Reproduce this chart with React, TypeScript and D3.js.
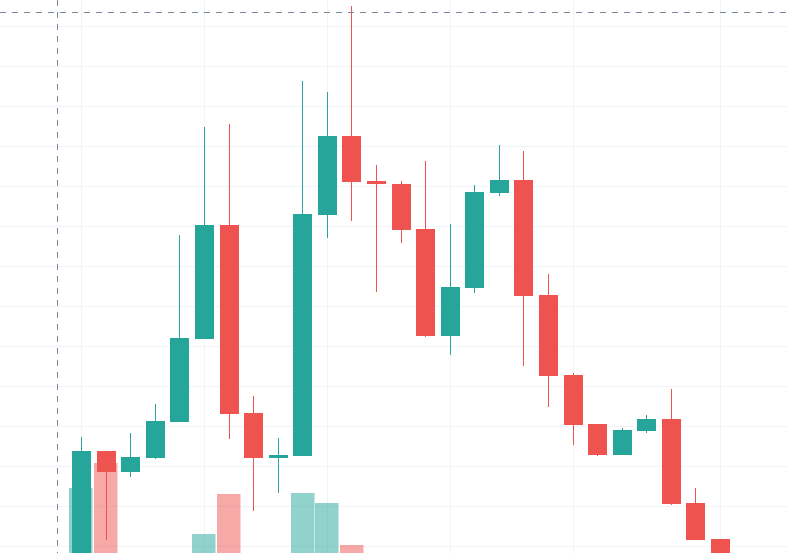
import React from "react";
import * as d3 from "d3";

// ---- data ----
const dates = [
  "2019-05-03", "2019-05-06", "2019-05-07", "2019-05-08", "2019-05-09", "2019-05-10",
  "2019-05-13", "2019-05-14", "2019-05-15", "2019-05-16", "2019-05-17",
  "2019-05-20", "2019-05-21", "2019-05-22", "2019-05-23", "2019-05-24",
  "2019-05-27", "2019-05-28", "2019-05-29", "2019-05-30", "2019-05-31",
  "2019-06-03", "2019-06-04", "2019-06-05", "2019-06-06", "2019-06-07",
  "2019-06-10", "2019-06-11",
];
const open = [
  96.5, 97.63, 111.88, 109.29, 111.04, 115.54, 125.91, 140.13, 116.63, 111.04, 111.29,
  141.41, 151.25, 145.63, 145.25, 139.63, 126.29, 132.29, 144.16, 145.75, 131.41,
  121.38, 115.25, 111.41, 114.41, 115.88, 105.38, 100.88,
];
const high = [
  98.0, 113.63, 111.9, 114.13, 117.75, 138.88, 152.41, 152.75, 118.79, 113.54, 158.13,
  156.75, 167.5, 147.66, 145.63, 148.13, 140.21, 145.13, 150.13, 149.41, 134.0,
  121.66, 115.25, 114.75, 116.41, 119.59, 107.25, 100.9,
];
const low = [
  94.8, 96.38, 100.75, 108.63, 110.88, 115.54, 125.91, 113.38, 104.41, 106.66, 111.29,
  138.46, 140.66, 131.79, 137.91, 126.16, 123.88, 131.66, 143.75, 122.5, 117.41,
  112.63, 111.29, 111.41, 114.16, 105.13, 100.69, 95.75,
];
const close = [
  97.4, 111.88, 109.29, 111.13, 115.63, 126.0, 140.13, 116.54, 111.04, 111.34, 141.5,
  151.25, 145.54, 145.21, 139.54, 126.29, 132.38, 144.25, 145.75, 131.29, 121.29,
  115.13, 111.41, 114.5, 115.88, 105.25, 100.79, 97.0,
];
const volume = [
  48, 132, 157, 52, 44, 58, 86, 126, 61, 40, 127,
  117, 75, 55, 42, 60, 38, 47, 35, 62, 50,
  45, 33, 30, 28, 54, 41, 36,
];
const gridDates = ["2019-05-06", "2019-05-13", "2019-05-20", "2019-05-27", "2019-06-03", "2019-06-11"];
const priceTicks = [95, 100, 105, 110, 115, 120, 125, 130, 135, 140, 145, 150, 155, 160, 165, 170];
const crosshairDate = "2019-05-03";
const crosshairPrice = 166.8;

const W = 787;
const H = 553;
const UP = "#26a69a";
const DOWN = "#ef5350";
const UP_VOL = "rgba(38,166,154,0.5)";
const DOWN_VOL = "rgba(239,83,80,0.5)";
const GRID = "#f0f3fa";
const CROSS = "#758696";

export default function App() {
  const x = d3.scaleBand<string>().domain(dates).range([44.85, 44.85 + 24.57 * dates.length]).padding(0);
  const y = d3.scaleLinear().domain([100, 165]).range([546, 26]);
  const vy = d3.scaleLinear().domain([0, 200]).range([620, 420]);
  const cx = (d: string) => (x(d) as number) + x.step() / 2;

  const candles = dates.map((d, i) => ({ d, o: open[i], h: high[i], l: low[i], c: close[i], v: volume[i] }));

  return (
    <svg width={W} height={H} style={{ position: "fixed", left: 0, top: 0, background: "#fff" }}>
      <rect x={0} y={0} width={W} height={H} fill="#fff" />
      {/* grid */}
      <g>
        {priceTicks.map((p) => (
          <line key={"h" + p} x1={0} x2={W} y1={Math.round(y(p)) + 0.5} y2={Math.round(y(p)) + 0.5} stroke={GRID} strokeWidth={1} />
        ))}
        {gridDates.map((d) => (
          <line key={"v" + d} y1={0} y2={H} x1={Math.round(cx(d) - 0.5) + 0.5} x2={Math.round(cx(d) - 0.5) + 0.5} stroke={GRID} strokeWidth={1} />
        ))}
      </g>
      {/* volume */}
      <g>
        {candles.map((k) => {
          const left = Math.round(cx(k.d) - 12.3);
          const top = Math.round(vy(k.v));
          const bottom = Math.round(vy(0));
          return (
            <rect key={"vol" + k.d} x={left} y={top} width={23.5} height={bottom - top} fill={k.c >= k.o ? UP_VOL : DOWN_VOL} />
          );
        })}
      </g>
      {/* candles */}
      <g>
        {candles.map((k) => {
          const color = k.c >= k.o ? UP : DOWN;
          const bx = Math.round(cx(k.d) - 9.5);
          const wx = bx + 9.5;
          const top = Math.round(y(Math.max(k.o, k.c)));
          const bot = Math.round(y(Math.min(k.o, k.c)));
          return (
            <g key={"c" + k.d}>
              <line x1={wx} x2={wx} y1={Math.round(y(k.h))} y2={Math.round(y(k.l))} stroke={color} strokeWidth={1} />
              <rect x={bx} y={top} width={19} height={Math.max(2, bot - top)} fill={color} />
            </g>
          );
        })}
      </g>
      {/* crosshair */}
      <g>
        <line x1={Math.round(cx(crosshairDate)) + 0.5} x2={Math.round(cx(crosshairDate)) + 0.5} y1={0} y2={H} stroke={CROSS} strokeWidth={1} strokeDasharray="6 6" />
        <line x1={0} x2={W} y1={Math.round(y(crosshairPrice)) + 0.5} y2={Math.round(y(crosshairPrice)) + 0.5} stroke={CROSS} strokeWidth={1} strokeDasharray="6 6" />
      </g>
    </svg>
  );
}
